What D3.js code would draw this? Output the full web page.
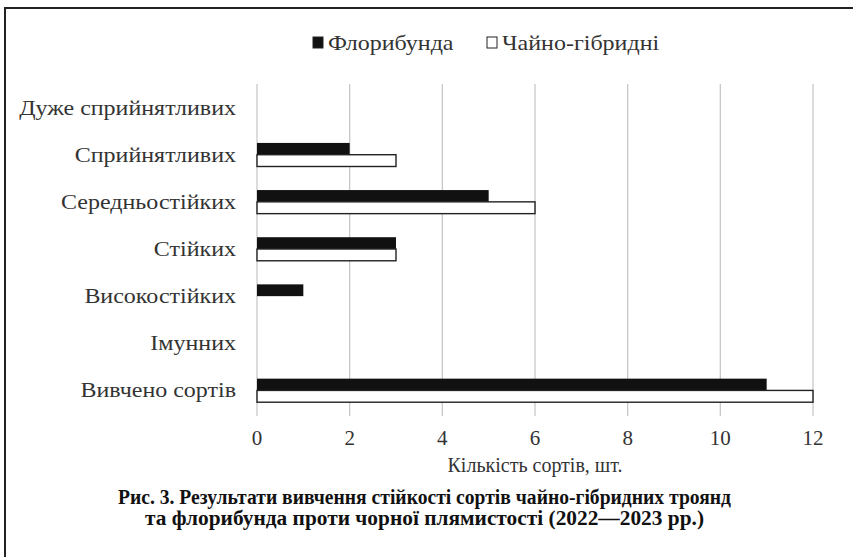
<!DOCTYPE html>
<html>
<head>
<meta charset="utf-8">
<script src="https://cdn.jsdelivr.net/npm/d3@7"></script>
<style>
  body { margin: 0; background: #fff; }
  svg { display: block; }
</style>
</head>
<body>
<div id="chart"></div>
<script>
// categories top -> bottom
const categories = ['Дуже сприйнятливих', 'Сприйнятливих', 'Середньостійких', 'Стійких', 'Високостійких', 'Імунних', 'Вивчено сортів']
const floribunda = [0, 2, 5, 3, 1, 0, 11]
const teaHybrid = [0, 3, 6, 3, 0, 0, 12]
const seriesNames = ['Флорибунда', 'Чайно-гібридні']
const xTicks = [0, 2, 4, 6, 8, 10, 12]
const xTitle = 'Кількість сортів, шт.'
const caption = [
  'Рис. 3. Результати вивчення стійкості сортів чайно-гібридних троянд',
  'та флорибунда проти чорної плямистості (2022—2023 рр.)'
]

const W = 853, H = 557
const m = {left: 257, right: 40, top: 84, bottom: 143}
const serif = 'Liberation Serif, Times New Roman, serif'
const fs = 20
const stretch = 1.2 // scanned labels look wider than the font

const svg = d3.select('#chart').append('svg')
  .attr('width', W).attr('height', H)
  .attr('font-family', serif)

// outer frame
svg.append('path')
  .attr('d', 'M5,' + H + ' L5,8 L' + W + ',8')
  .attr('fill', 'none').attr('stroke', '#222').attr('stroke-width', 2)

const x = d3.scaleLinear().domain([0, 12]).range([m.left, W - m.right])
const y = d3.scaleBand().domain(categories).range([m.top, H - m.bottom]).paddingInner(0.5).paddingOuter(0.25)
const y1 = d3.scaleBand().domain(seriesNames).range([0, y.bandwidth()])

// gridlines
svg.append('g').selectAll('line')
  .data(xTicks).enter().append('line')
  .attr('x1', d => x(d)).attr('x2', d => x(d))
  .attr('y1', m.top).attr('y2', H - m.bottom + 2)
  .attr('stroke', '#c8c8c8').attr('stroke-width', 1.3)

// bars
const rows = svg.append('g').selectAll('g')
  .data(categories).enter().append('g')
  .attr('transform', d => 'translate(0,' + y(d) + ')')

rows.append('rect')
  .attr('x', x(0))
  .attr('y', y1(seriesNames[0]))
  .attr('height', y1.bandwidth())
  .attr('width', (d, i) => x(floribunda[i]) - x(0))
  .attr('fill', '#111')
  .style('display', (d, i) => floribunda[i] ? null : 'none')

rows.append('rect')
  .attr('x', x(0))
  .attr('y', y1(seriesNames[1]))
  .attr('height', y1.bandwidth())
  .attr('width', (d, i) => x(teaHybrid[i]) - x(0))
  .attr('fill', '#fff').attr('stroke', '#222').attr('stroke-width', 1.4)
  .style('display', (d, i) => teaHybrid[i] ? null : 'none')

// category labels
svg.append('g').selectAll('text')
  .data(categories).enter().append('text')
  .attr('transform', d => 'translate(' + (m.left - 21) + ',' + (y(d) + y.bandwidth() / 2) + ') scale(' + stretch + ',1)')
  .attr('dy', '0.35em')
  .attr('text-anchor', 'end')
  .attr('font-size', fs)
  .attr('fill', '#333')
  .text(d => d)

// x ticks
svg.append('g').selectAll('text')
  .data(xTicks).enter().append('text')
  .attr('x', d => x(d))
  .attr('y', 438)
  .attr('dy', '0.35em')
  .attr('text-anchor', 'middle')
  .attr('font-size', 21)
  .attr('fill', '#333')
  .text(d => d)

svg.append('text')
  .attr('x', x(6)).attr('y', 465).attr('dy', '0.35em')
  .attr('text-anchor', 'middle')
  .attr('font-size', fs).attr('fill', '#333')
  .text(xTitle)

// legend
const legend = svg.append('g')
const legX = [313, 487]
seriesNames.forEach((s, i) => {
  legend.append('rect')
    .attr('x', legX[i]).attr('y', 37).attr('width', 10).attr('height', 11)
    .attr('fill', i === 0 ? '#111' : '#fff')
    .attr('stroke', '#222').attr('stroke-width', 1)
  legend.append('text')
    .attr('transform', 'translate(' + (legX[i] + 15) + ',43) scale(' + stretch + ',1)')
    .attr('dy', '0.35em')
    .attr('font-size', fs).attr('fill', '#333')
    .text(s)
})

// caption
svg.append('g').selectAll('text')
  .data(caption).enter().append('text')
  .attr('x', W / 2 - 2)
  .attr('y', (d, i) => 497 + i * 21)
  .attr('dy', '0.35em')
  .attr('text-anchor', 'middle')
  .attr('font-size', 20)
  .attr('font-weight', 'bold')
  .attr('fill', '#111')
  .attr('textLength', (d, i) => i === 0 ? 613 : 559)
  .attr('lengthAdjust', 'spacingAndGlyphs')
  .text(d => d)
</script>
</body>
</html>
